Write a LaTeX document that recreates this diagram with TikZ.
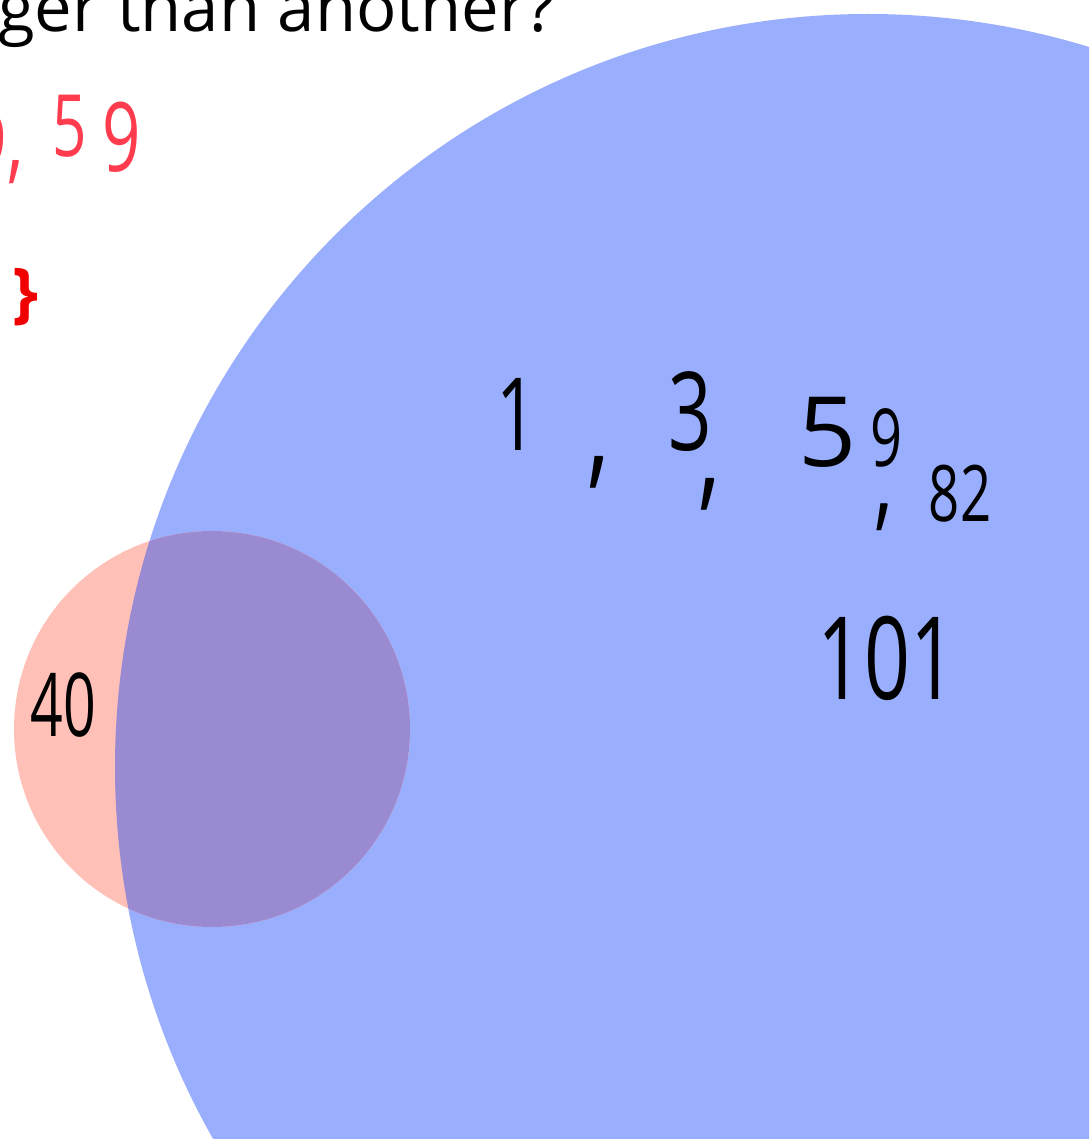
\documentclass[tikz,border=0pt]{standalone}
\usepackage{fontspec}
\setmainfont{Open Sans}
\definecolor{bigblue}{RGB}{154,174,254}
\definecolor{pinkc}{RGB}{255,192,184}
\definecolor{overlapc}{RGB}{153,138,210}
\definecolor{inkred}{RGB}{255,59,78}
\definecolor{bracered}{RGB}{240,0,0}
\tikzset{
  hw/.style={inner sep=0pt, text=black, xscale=0.7},
  hwred/.style={hw, text=inkred},
  fs/.style={font=\fontsize{#1}{#1}\selectfont}
}
\begin{document}
\begin{tikzpicture}[x=1pt,y=-1pt]
\useasboundingbox (0,0) rectangle (1089,1139);
\clip (0,0) rectangle (1089,1139);
\fill[white] (0,0) rectangle (1089,1139);
% circles
\fill[bigblue] (868,767) circle (753pt);
\fill[pinkc] (212,729) circle (198pt);
\begin{scope}
  \clip (868,767) circle (753pt);
  \fill[overlapc] (212,729) circle (198pt);
\end{scope}
% heading
\node[anchor=base west, inner sep=0pt, font=\fontsize{67}{67}\selectfont] (title) at (-2,32) {ger than another?};
% red handwriting
\node[hwred, fs=72] (r9a) at (-8,140) {9};
\node[hwred, fs=95] (rc) at (16,172) {,};
\node[hwred, fs=86] (r5) at (70,126) {5};
\node[hwred, fs=96] (r9b) at (122,137) {9};
\node[inner sep=0pt, text=bracered, font=\bfseries\fontsize{66}{66}\selectfont] (brace) at (26,297) {\}};
% black handwriting in blue circle
\node[hw, fs=101] (n1) at (517,414) {1};
\node[hw, fs=130] (c1) at (599,472) {,};
\node[hw, fs=109] (n3) at (690,412) {3};
\node[hw, fs=130] (c2) at (710,494) {,};
\node[hw, fs=97, xscale=1.5] (n5) at (828,432) {5};
\node[hw, fs=80] (n9) at (886,438) {9};
\node[hw, fs=110] (c3) at (884,517) {,};
\node[hw, fs=78] (n82) at (960,494) {82};
\node[hw, fs=115] (n101) at (887,658) {101};
\node[hw, fs=88, xscale=0.93] (n40) at (63,705) {40};
\end{tikzpicture}
\end{document}
